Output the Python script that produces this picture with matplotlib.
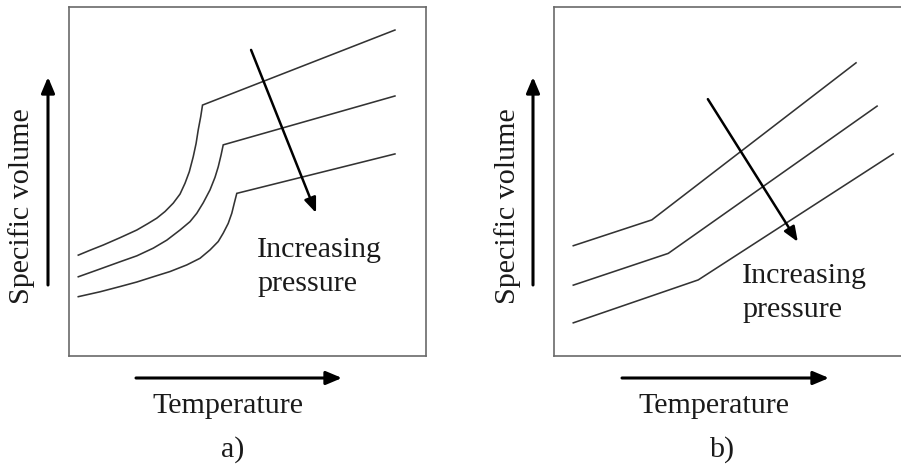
import numpy as np
import matplotlib.pyplot as plt

plt.rcParams['font.family'] = ['Liberation Serif', 'DejaVu Serif']

W, H, DPI = 901, 466, 100

# temperature (x) vs specific volume (y), arbitrary units on a 0..10 box
# a) three isobars with a kink at the transition
a_temp_hi = [0.26, 0.59, 0.96, 1.43, 1.90, 2.22, 2.46, 2.69, 2.92, 3.11, 3.25,
             3.37, 3.48, 3.56, 3.62, 3.69, 3.74, 9.13]
a_vol_hi = [2.89, 3.03, 3.18, 3.39, 3.61, 3.80, 3.95, 4.14, 4.38, 4.64, 4.95,
            5.28, 5.71, 6.09, 6.48, 6.86, 7.19, 9.34]
a_temp_mid = [0.26, 0.78, 1.43, 1.90, 2.36, 2.74, 3.11, 3.39, 3.58, 3.76, 3.95,
              4.09, 4.18, 4.26, 4.32, 9.13]
a_vol_mid = [2.27, 2.46, 2.70, 2.87, 3.09, 3.32, 3.61, 3.85, 4.09, 4.39, 4.76,
             5.12, 5.42, 5.76, 6.05, 7.45]
a_temp_lo = [0.26, 0.87, 1.43, 1.90, 2.36, 2.83, 3.30, 3.67, 3.95, 4.18, 4.32,
             4.46, 4.56, 4.63, 4.70, 9.13]
a_vol_lo = [1.70, 1.84, 1.99, 2.12, 2.27, 2.42, 2.61, 2.80, 3.04, 3.28, 3.52,
            3.80, 4.09, 4.38, 4.66, 5.79]

# b) three isobars, piecewise linear
b_temp_hi = [0.54, 2.74, 8.46]
b_vol_hi = [3.16, 3.90, 8.40]
b_temp_mid = [0.54, 3.20, 9.05]
b_vol_mid = [2.03, 2.94, 7.16]
b_temp_lo = [0.54, 4.04, 9.50]
b_vol_lo = [0.95, 2.18, 5.79]

# pressure arrows (tail, head) and label spot
a_arrow = [(5.10, 8.77), (6.92, 4.10)]
b_arrow = [(4.31, 7.36), (6.83, 3.27)]
a_label = (5.27, 2.85, 1.86)
b_label = (5.27, 2.10, 1.13)

FS = 21.6
TXT = '#1a1a1a'


def panel(rect, curves, arrow, label):
    ax = fig.add_axes(rect)
    ax.set_xlim(0, 10)
    ax.set_ylim(0, 10)
    ax.set_xticks([])
    ax.set_yticks([])
    for sp in ax.spines.values():
        sp.set_color('#6a6a6a')
        sp.set_linewidth(1.2)
    for t, v in curves:
        ax.plot(t, v, color='#333333', lw=1.15, solid_joinstyle='miter')
    ax.annotate('', xy=arrow[1], xytext=arrow[0],
                arrowprops=dict(arrowstyle='-|>,head_length=0.9,head_width=0.36',
                                mutation_scale=10, color='black', lw=1.8,
                                shrinkA=0, shrinkB=0))
    x, y1, y2 = label
    ax.text(x, y1, 'Increasing', fontsize=FS, color=TXT, ha='left', va='baseline')
    ax.text(x, y2, 'pressure', fontsize=FS, color=TXT, ha='left', va='baseline')
    return ax


fig = plt.figure(figsize=(W / DPI, H / DPI), dpi=DPI)

bottom = (H - 356) / H
height = 349 / H
width = 357 / W
panel([69 / W, bottom, width, height],
      [(a_temp_hi, a_vol_hi), (a_temp_mid, a_vol_mid), (a_temp_lo, a_vol_lo)],
      a_arrow, a_label)
panel([554 / W, bottom, width, height],
      [(b_temp_hi, b_vol_hi), (b_temp_mid, b_vol_mid), (b_temp_lo, b_vol_lo)],
      b_arrow, b_label)

# axis arrows and captions drawn in pixel space
deco = fig.add_axes([0, 0, 1, 1])
deco.set_xlim(0, W)
deco.set_ylim(H, 0)
deco.axis('off')

axis_arrow = dict(arrowstyle='-|>,head_length=0.95,head_width=0.4',
                  mutation_scale=10, color='black', lw=2.2, shrinkA=0, shrinkB=0)

for yx, ylab_x, tx, tcx, cap, capx in [(48, 22, (136, 342), 228, 'a)', 233),
                                       (533, 508, (622, 829), 714, 'b)', 722)]:
    deco.annotate('', xy=(yx, 77), xytext=(yx, 285), arrowprops=axis_arrow)
    deco.text(ylab_x, 206, 'Specific volume', rotation=90, fontsize=FS, color=TXT,
              ha='center', va='center')
    deco.annotate('', xy=(tx[1], 378), xytext=(tx[0], 378), arrowprops=axis_arrow)
    deco.text(tcx, 412.7, 'Temperature', fontsize=FS, color=TXT,
              ha='center', va='baseline')
    deco.text(capx, 457, cap, fontsize=FS, color=TXT, ha='center', va='baseline')

fig.savefig('out.png', dpi=DPI)
